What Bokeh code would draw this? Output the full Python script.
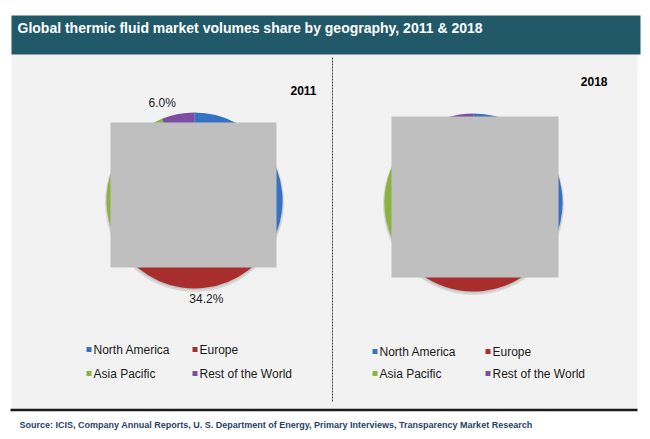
import math
from bokeh.plotting import figure
from bokeh.models import Range1d, ColumnDataSource
from bokeh.core.properties import value
from bokeh.embed import file_html
from bokeh.resources import INLINE

# ---------------- data ----------------
regions = ["North America", "Europe", "Asia Pacific", "Rest of the World"]
share_2011 = [31.0, 34.2, 28.8, 6.0]
share_2018 = [30.5, 31.5, 33.0, 5.0]
years = ["2011", "2018"]
colors = ["#3572C3", "#A72E2C", "#8BB43F", "#7A4FA2"]
title = "Global thermic fluid market volumes share by geography, 2011 & 2018"
source = "Source: ICIS, Company Annual Reports, U. S. Department of Energy, Primary Interviews, Transparency Market Research"
# labels visible in the reference (others hidden under the grey boxes)
shown_2011 = [False, True, False, True]
shown_2018 = [False, False, False, False]

W, H = 650, 439
FONT = value("Liberation Sans")


def Y(py):
    return H - py


p = figure(width=W, height=H, x_range=Range1d(0, W), y_range=Range1d(0, H),
           output_backend="svg", toolbar_location=None, min_border=0)
p.axis.visible = False
p.grid.visible = False
p.outline_line_color = None
p.background_fill_color = "white"
p.border_fill_color = "white"

# panel and title bar
p.quad(left=[11], right=[637], top=[Y(54)], bottom=[Y(409)], fill_color="#F2F2F2", line_color=None)
p.quad(left=[11], right=[640], top=[Y(15)], bottom=[Y(54)], fill_color="#215968", line_color=None)
p.text(x=[17], y=[Y(27)], text=[title], text_font=FONT, text_font_size="14px",
       text_font_style="bold", text_color="white", text_baseline="middle")

# divider
p.segment(x0=[332], y0=[Y(57)], x1=[332], y1=[Y(402)], line_color="#404040", line_width=1, line_dash="2 1")

# bottom rule and source
p.segment(x0=[10], y0=[Y(409.5)], x1=[637], y1=[Y(409.5)], line_color="#1a1a1a", line_width=2.5)
p.text(x=[19], y=[Y(424)], text=[source], text_font=FONT, text_font_size="9px",
       text_font_style="bold", text_color="#1F3F6E", text_baseline="middle")


def pie(shares, cx, cy, r, shown, year, year_x, year_y):
    total = float(sum(shares))
    starts, ends, mids = [], [], []
    cum = 0.0
    for v in shares:
        a0 = cum / total
        cum += v
        a1 = cum / total
        starts.append(math.pi / 2 - 2 * math.pi * a0)
        ends.append(math.pi / 2 - 2 * math.pi * a1)
        mids.append(2 * math.pi * (a0 + a1) / 2)
    # soft shadow
    p.circle(x=[cx], y=[Y(cy) - 2], radius=r + 1.5, fill_color="#B8B8B8", fill_alpha=0.45, line_color=None)
    p.circle(x=[cx], y=[Y(cy) - 1], radius=r + 0.5, fill_color="#A8A8A8", fill_alpha=0.4, line_color=None)
    src = ColumnDataSource(dict(start=starts, end=ends, color=colors))
    p.wedge(x=cx, y=Y(cy), radius=r, start_angle="start", end_angle="end", direction="clock",
            fill_color="color", line_color=None, source=src)
    # labels
    rl = r + 11
    for v, m, s in zip(shares, mids, shown):
        if not s:
            continue
        lx = cx + rl * math.sin(m)
        ly = cy - rl * math.cos(m)
        dx = lx - cx
        align = "center"
        if dx < -15:
            align = "right"
        elif dx > 15:
            align = "left"
        p.text(x=[lx], y=[Y(ly)], text=["%.1f%%" % v], text_font=FONT, text_font_size="12px",
               text_color="#1a1a1a", text_align=align, text_baseline="middle")
    p.text(x=[year_x], y=[Y(year_y)], text=[year], text_font=FONT, text_font_size="12px",
           text_font_style="bold", text_color="black", text_align="right", text_baseline="middle")


pie(share_2011, 194, 200, 88, shown_2011, years[0], 316, 90)
pie(share_2018, 473, 202, 89, shown_2018, years[1], 607, 81)

# grey cover boxes (as in the reference)
p.quad(left=[110, 391], right=[276, 558], top=[Y(122), Y(116)], bottom=[Y(267), Y(277)],
       fill_color="#BFBFBF", line_color=None)


def legend(x0, x1, y0, y1):
    pos = [(x0, y0), (x1, y0), (x0, y1), (x1, y1)]
    for (lx, ly), name, c in zip(pos, regions, colors):
        p.rect(x=[lx + 2.5], y=[Y(ly)], width=5, height=5, fill_color=c, line_color=None)
        p.text(x=[lx + 7], y=[Y(ly)], text=[name], text_font=FONT, text_font_size="12px",
               text_color="#1a1a1a", text_baseline="middle")


legend(86, 192, 349, 373)
legend(372, 485, 351, 373)

html = file_html(p, INLINE)
open("out.html", "w").write(html)
